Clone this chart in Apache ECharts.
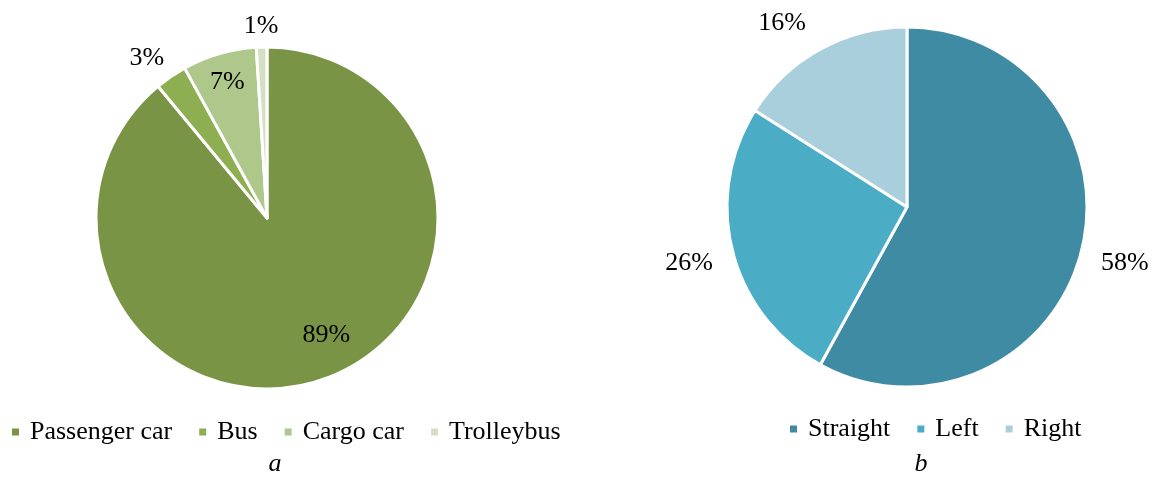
<!DOCTYPE html>
<html>
<head>
<meta charset="utf-8">
<script src="https://cdn.jsdelivr.net/npm/echarts@6/dist/echarts.min.js"></script>
<style>
	html, body { margin: 0; padding: 0; background: #fff; }
	#chart { width: 1155px; height: 477px; }
</style>
</head>
<body>
<div id="chart"></div>
<script>
// vehicle types (chart a)
var vehicleNames = ['Passenger car', 'Bus', 'Cargo car', 'Trolleybus'];
var vehicleShares = [89, 3, 7, 1];
// turning directions (chart b)
var directionNames = ['Straight', 'Left', 'Right'];
var directionShares = [58, 26, 16];

var vehicleColors = ['#7a9445', '#8eae52', '#aec78a', '#d4e0c4'];
var directionColors = ['#3e8ba3', '#4bacc6', '#a9cedc'];

// label placement: distance as part of radius, and a small turn in degrees
var vehicleLabelK = [0.77, 1.17, 0.83, 1.12];
var vehicleLabelTurn = [-7, -2.7, 0, 0];
var directionLabelK = [1.25, 1.25, 1.235];
var directionLabelTurn = [0, 0, -5.4];

var FONT = '"Liberation Serif", "Times New Roman", serif';

var pieA = { cx: 267, cy: 218, r: 171 };
var pieB = { cx: 907, cy: 207, r: 180 };

function midAngles(values) {
	var total = values.reduce(function (a, b) { return a + b; }, 0);
	var acc = 0;
	return values.map(function (v) {
		var mid = (acc + v / 2) / total * Math.PI * 2;
		acc += v;
		return mid;
	});
}

function buildData(names, values, colors) {
	return names.map(function (n, i) {
		return { name: n, value: values[i], itemStyle: { color: colors[i] } };
	});
}

function makeLayout(pie, values, ks, turns) {
	var angles = midAngles(values);
	return function (params) {
		var i = params.dataIndex;
		var d = pie.r * ks[i];
		var a = angles[i] + turns[i] * Math.PI / 180;
		return {
			x: pie.cx + d * Math.sin(a),
			y: pie.cy - d * Math.cos(a),
			align: 'center',
			verticalAlign: 'middle'
		};
	};
}

function pieSeries(name, pie, names, values, colors, ks, turns) {
	return {
		name: name,
		type: 'pie',
		center: [pie.cx, pie.cy],
		radius: pie.r,
		startAngle: 90,
		clockwise: true,
		silent: true,
		avoidLabelOverlap: false,
		itemStyle: { borderColor: '#ffffff', borderWidth: 3 },
		label: {
			show: true,
			position: 'inside',
			formatter: '{c}%',
			color: '#000',
			fontFamily: FONT,
			fontSize: 26
		},
		labelLine: { show: false },
		labelLayout: makeLayout(pie, values, ks, turns),
		data: buildData(names, values, colors)
	};
}

var legendBase = {
	orient: 'horizontal',
	icon: 'rect',
	itemWidth: 9,
	itemHeight: 9,
	itemGap: 25,
	padding: 0,
	selectedMode: false,
	textStyle: {
		color: '#000',
		fontFamily: FONT,
		fontSize: 26,
		padding: [0, 0, 0, 5]
	}
};

var chart = echarts.init(document.getElementById('chart'));
chart.setOption({
	animation: false,
	backgroundColor: '#ffffff',
	title: [
		{ text: 'a', left: 275, top: 451, padding: 0, textAlign: 'center',
			textStyle: { fontFamily: FONT, fontStyle: 'italic', fontWeight: 'normal', fontSize: 26, color: '#000' } },
		{ text: 'b', left: 921, top: 451, padding: 0, textAlign: 'center',
			textStyle: { fontFamily: FONT, fontStyle: 'italic', fontWeight: 'normal', fontSize: 26, color: '#000' } }
	],
	legend: [
		Object.assign({}, legendBase, { left: 10, top: 419, data: vehicleNames }),
		Object.assign({}, legendBase, { left: 788, top: 416, data: directionNames })
	],
	series: [
		pieSeries('Vehicles', pieA, vehicleNames, vehicleShares, vehicleColors, vehicleLabelK, vehicleLabelTurn),
		pieSeries('Directions', pieB, directionNames, directionShares, directionColors, directionLabelK, directionLabelTurn)
	]
});
</script>
</body>
</html>
